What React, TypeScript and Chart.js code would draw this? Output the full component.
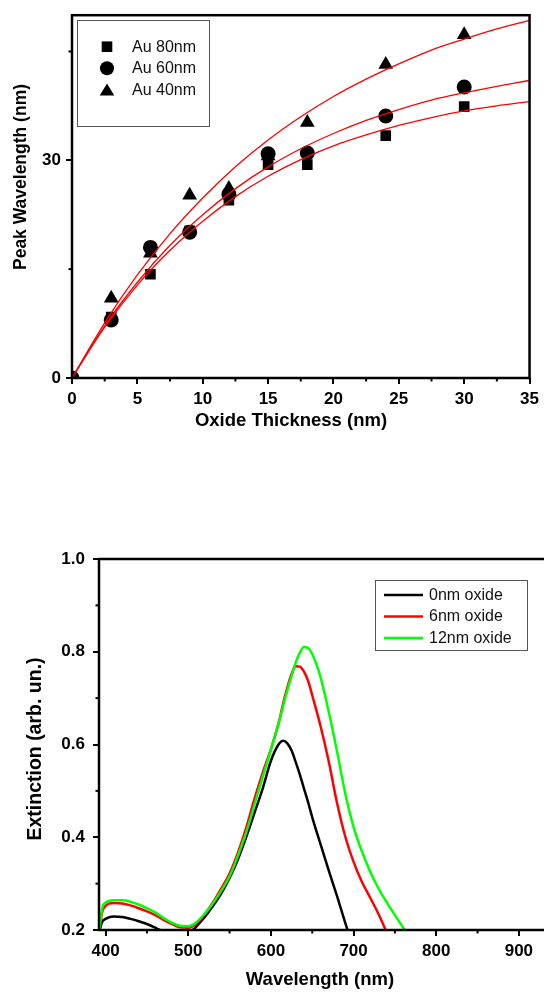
import React, { useEffect, useRef } from "react";
import { Chart, registerables } from "chart.js";

Chart.register(...registerables);

const FONT = '"Liberation Sans", Arial, Helvetica, sans-serif';

// Upper panel: plasmon peak shift against oxide shell thickness
const THICKNESS_NM = [0, 3, 6, 9, 12, 15, 18, 24, 30];
const SHIFT_AU80 = [0, 8.4, 14.3, 20.3, 24.5, 29.4, 29.4, 33.4, 37.4];
const SHIFT_AU60 = [0, 8.0, 18.0, 20.1, 25.3, 30.9, 31.0, 36.1, 40.1];
const SHIFT_AU40 = [0, 11.0, 17.2, 25.2, 26.1, 30.6, 35.2, 43.2, 47.3];

// Fitted saturation curves, sampled along the thickness axis
const FIT_THICKNESS = [0, 2.5, 5, 7.5, 10, 12.5, 15, 17.5, 20, 22.5, 25, 27.5, 30, 32.5, 35];
const FIT_AU80 = [0, 7.0, 12.8, 17.6, 21.6, 25.0, 27.8, 30.1, 32.0, 33.5, 34.8, 35.9, 36.8, 37.5, 38.1];
const FIT_AU60 = [0, 7.2, 13.2, 18.3, 22.5, 26.1, 29.1, 31.6, 33.7, 35.5, 37.0, 38.3, 39.3, 40.2, 41.0];
const FIT_AU40 = [0, 7.6, 14.2, 19.9, 24.8, 29.1, 32.8, 36.0, 38.8, 41.2, 43.3, 45.2, 46.7, 48.1, 49.3];

const TOP_X_TICKS_MINOR = [2.5, 7.5, 12.5, 17.5, 22.5, 27.5, 32.5];
const TOP_Y_TICKS_MINOR = [15, 45];

// Lower panel: extinction spectra
const WAVELENGTH = [
  392, 396, 400, 410, 420, 430, 440, 450, 460, 470, 480, 490, 500, 505, 510, 520, 530, 540, 550,
  560, 570, 580, 590, 600, 610, 615, 620, 625, 630, 635, 640, 645, 650, 660, 670, 680, 690, 700,
  710, 720, 730, 740, 750, 760, 765,
];
const EXT_OXIDE_0 = [
  0.195, 0.218, 0.224, 0.229, 0.228, 0.224, 0.219, 0.213, 0.205, 0.196, null, null, null, 0.199, 0.208,
  0.228, 0.252, 0.279, 0.312, 0.352, 0.4, 0.452, 0.505, 0.565, 0.602, 0.608, 0.602, 0.587, 0.562, 0.535,
  0.505, 0.475, 0.443, 0.385, 0.328, 0.273, 0.215, 0.16, null, null, null, null, null, null, null,
];
const EXT_OXIDE_6 = [
  0.195, 0.24, 0.252, 0.258, 0.257, 0.253, 0.247, 0.24, 0.232, 0.222, 0.213, 0.206, 0.205, 0.208, 0.214,
  0.234, 0.26, 0.29, 0.322, 0.366, 0.42, 0.482, 0.539, 0.59, 0.651, 0.69, 0.724, 0.752, 0.769, 0.768,
  0.757, 0.737, 0.706, 0.64, 0.563, 0.474, 0.401, 0.347, 0.304, 0.27, 0.235, 0.195, null, null, null,
];
const EXT_OXIDE_12 = [
  0.195, 0.248, 0.259, 0.264, 0.264, 0.261, 0.255, 0.247, 0.238, 0.226, 0.216, 0.209, 0.208, 0.211, 0.217,
  0.235, 0.258, 0.285, 0.316, 0.36, 0.41, 0.47, 0.53, 0.589, 0.65, 0.685, 0.718, 0.748, 0.777, 0.798,
  0.81, 0.808, 0.795, 0.745, 0.67, 0.585, 0.494, 0.422, 0.37, 0.326, 0.29, 0.26, 0.232, 0.205, 0.19,
];

const BOTTOM_X_TICKS_MINOR = [450, 550, 650, 750, 850];
const BOTTOM_Y_TICKS_MINOR = [0.3, 0.5, 0.7, 0.9];

const tickFont = { family: FONT, size: 17, weight: "bold" as const };

// Box around the plotting area
const framePlugin = (width: number) => ({
  id: "frame",
  afterDraw(chart: any) {
    const { ctx, chartArea: a } = chart;
    ctx.save();
    ctx.strokeStyle = "#000";
    ctx.lineWidth = width;
    ctx.strokeRect(a.left, a.top, a.right - a.left, a.bottom - a.top);
    ctx.restore();
  },
});

// Short unlabeled ticks between the labeled ones
const minorTicksPlugin = (xs: number[], ys: number[], len: number) => ({
  id: "minorTicks",
  afterDraw(chart: any) {
    const { ctx, chartArea: a, scales } = chart;
    ctx.save();
    ctx.strokeStyle = "#000";
    ctx.lineWidth = 2;
    xs.forEach((v) => {
      const p = scales.x.getPixelForValue(v);
      ctx.beginPath();
      ctx.moveTo(p, a.bottom);
      ctx.lineTo(p, a.bottom + len);
      ctx.stroke();
    });
    ys.forEach((v) => {
      const p = scales.y.getPixelForValue(v);
      ctx.beginPath();
      ctx.moveTo(a.left, p);
      ctx.lineTo(a.left - len, p);
      ctx.stroke();
    });
    ctx.restore();
  },
});

type AxisTitle = { text: string; x: number; y: number; size: number; vertical?: boolean };

// Axis captions placed at fixed spots beside the axes
const axisTitlesPlugin = (titles: AxisTitle[]) => ({
  id: "axisTitles",
  afterDraw(chart: any) {
    const { ctx } = chart;
    ctx.save();
    ctx.fillStyle = "#000";
    ctx.textAlign = "center";
    ctx.textBaseline = "middle";
    titles.forEach((t) => {
      ctx.font = `bold ${t.size}px ${FONT}`;
      ctx.save();
      ctx.translate(t.x, t.y);
      if (t.vertical) ctx.rotate(-Math.PI / 2);
      ctx.fillText(t.text, 0, 0);
      ctx.restore();
    });
    ctx.restore();
  },
});

type LegendBox = {
  x: number;
  y: number;
  w: number;
  h: number;
  rows: number[];
  markerX: number;
  textX: number;
  lineLen?: number;
};

// Boxed legend placed inside the plotting area, built from the datasets flagged for it
const legendPlugin = (box: LegendBox) => ({
  id: "boxLegend",
  afterDraw(chart: any) {
    const { ctx } = chart;
    const items = chart.data.datasets.filter((d: any) => d.inLegend);
    ctx.save();
    ctx.fillStyle = "#fff";
    ctx.fillRect(box.x, box.y, box.w, box.h);
    ctx.strokeStyle = "#555";
    ctx.lineWidth = 1;
    ctx.strokeRect(box.x + 0.5, box.y + 0.5, box.w, box.h);
    ctx.font = `16px ${FONT}`;
    ctx.textBaseline = "middle";
    ctx.textAlign = "left";
    items.forEach((d: any, i: number) => {
      const y = box.rows[i];
      const mx = box.markerX;
      ctx.fillStyle = "#000";
      if (d.showLine) {
        const len = box.lineLen ?? 40;
        ctx.strokeStyle = d.borderColor;
        ctx.lineWidth = 2.5;
        ctx.beginPath();
        ctx.moveTo(mx, y);
        ctx.lineTo(mx + len, y);
        ctx.stroke();
      } else if (d.pointStyle === "rect") {
        ctx.fillRect(mx - 5.3, y - 5.3, 10.6, 10.6);
      } else if (d.pointStyle === "circle") {
        ctx.beginPath();
        ctx.arc(mx, y, 7, 0, Math.PI * 2);
        ctx.fill();
      } else if (d.pointStyle === "triangle") {
        ctx.beginPath();
        ctx.moveTo(mx, y - 6.5);
        ctx.lineTo(mx + 7.3, y + 5.5);
        ctx.lineTo(mx - 7.3, y + 5.5);
        ctx.closePath();
        ctx.fill();
      }
      ctx.fillStyle = "#111";
      ctx.fillText(d.label, box.textX, y + 0.5);
    });
    ctx.restore();
  },
});

const points = (xs: number[], ys: (number | null)[]) => xs.map((x, i) => ({ x, y: ys[i] }));

function axisBase() {
  return {
    type: "linear" as const,
    border: { display: false },
    grid: {
      drawOnChartArea: false,
      drawTicks: true,
      tickLength: 6,
      lineWidth: 2,
      color: "#000",
    },
  };
}

function topConfig(): any {
  const marker = (label: string, ys: number[], style: string, radius: number) => ({
    label,
    inLegend: true,
    data: points(THICKNESS_NM, ys),
    showLine: false,
    pointStyle: style,
    pointRadius: radius,
    pointBackgroundColor: "#000",
    pointBorderColor: "#000",
    pointBorderWidth: 0,
    clip: 0,
    order: 2,
  });
  const fit = (ys: number[]) => ({
    label: "fit",
    data: points(FIT_THICKNESS, ys),
    showLine: true,
    borderColor: "#ff0000",
    borderWidth: 1.3,
    pointRadius: 0,
    cubicInterpolationMode: "monotone",
    clip: 0,
    order: 1,
  });
  return {
    type: "scatter",
    data: {
      datasets: [
        marker("Au 80nm", SHIFT_AU80, "rect", 7.5),
        marker("Au 60nm", SHIFT_AU60, "circle", 7.5),
        marker("Au 40nm", SHIFT_AU40, "triangle", 8.5),
        fit(FIT_AU80),
        fit(FIT_AU60),
        fit(FIT_AU40),
      ],
    },
    options: {
      animation: false,
      responsive: false,
      devicePixelRatio: 1,
      layout: { padding: { top: 8, right: 11, left: 0, bottom: 0 } },
      plugins: { legend: { display: false }, tooltip: { enabled: false } },
      scales: {
        x: {
          ...axisBase(),
          min: 0,
          max: 35,
          ticks: { stepSize: 5, font: tickFont, color: "#000", padding: 5, includeBounds: false },
          afterFit: (s: any) => {
            s.height = 62;
          },
        },
        y: {
          ...axisBase(),
          min: 0,
          max: 50,
          ticks: { stepSize: 30, font: tickFont, color: "#000", padding: 5, includeBounds: false },
          afterFit: (s: any) => {
            s.width = 72;
          },
        },
      },
    },
    plugins: [
      minorTicksPlugin(TOP_X_TICKS_MINOR, TOP_Y_TICKS_MINOR, 3.5),
      framePlugin(2.5),
      axisTitlesPlugin([
        { text: "Oxide Thickness (nm)", x: 291, y: 421, size: 18.5 },
        { text: "Peak Wavelength (nm)", x: 21, y: 177, size: 17.5, vertical: true },
      ]),
      legendPlugin({ x: 77, y: 20, w: 132, h: 106, rows: [46.7, 68.3, 90], markerX: 107, textX: 132 }),
    ],
  };
}

function bottomConfig(): any {
  const spectrum = (label: string, ys: (number | null)[], color: string, order: number) => ({
    label,
    inLegend: true,
    data: points(WAVELENGTH, ys),
    showLine: true,
    borderColor: color,
    backgroundColor: color,
    borderWidth: 2.5,
    pointRadius: 0,
    cubicInterpolationMode: "monotone",
    spanGaps: false,
    clip: 0,
    order,
  });
  return {
    type: "line",
    data: {
      datasets: [
        spectrum("0nm oxide", EXT_OXIDE_0, "#000000", 3),
        spectrum("6nm oxide", EXT_OXIDE_6, "#ff0000", 2),
        spectrum("12nm oxide", EXT_OXIDE_12, "#00ff00", 1),
      ],
    },
    options: {
      animation: false,
      responsive: false,
      devicePixelRatio: 1,
      layout: { padding: { top: 39, right: 5, left: 0, bottom: 0 } },
      plugins: { legend: { display: false }, tooltip: { enabled: false } },
      scales: {
        x: {
          ...axisBase(),
          min: 392,
          max: 934,
          ticks: { stepSize: 100, font: tickFont, color: "#000", padding: 5, includeBounds: false },
          afterFit: (s: any) => {
            s.height = 63;
          },
        },
        y: {
          ...axisBase(),
          min: 0.2,
          max: 1.0,
          ticks: {
            stepSize: 0.2,
            font: tickFont,
            color: "#000",
            padding: 8,
            includeBounds: false,
            callback: (v: number) => Number(v).toFixed(1),
          },
          afterFit: (s: any) => {
            s.width = 99;
          },
        },
      },
    },
    plugins: [
      minorTicksPlugin(BOTTOM_X_TICKS_MINOR, BOTTOM_Y_TICKS_MINOR, 3.5),
      framePlugin(2.5),
      axisTitlesPlugin([
        { text: "Wavelength (nm)", x: 320, y: 460, size: 18.5 },
        { text: "Extinction (arb. un.)", x: 36, y: 229, size: 19.5, vertical: true },
      ]),
      legendPlugin({
        x: 375,
        y: 60,
        w: 152,
        h: 70,
        rows: [75, 96.5, 118],
        markerX: 384,
        textX: 429,
        lineLen: 39,
      }),
    ],
  };
}

export default function App() {
  const topRef = useRef<HTMLCanvasElement>(null);
  const bottomRef = useRef<HTMLCanvasElement>(null);

  useEffect(() => {
    const top = new Chart(topRef.current as HTMLCanvasElement, topConfig());
    const bottom = new Chart(bottomRef.current as HTMLCanvasElement, bottomConfig());
    return () => {
      top.destroy();
      bottom.destroy();
    };
  }, []);

  return (
    <div
      style={{
        position: "absolute",
        left: 0,
        top: 0,
        width: 544,
        height: 993,
        overflow: "hidden",
        background: "#fff",
      }}
    >
      <canvas ref={topRef} width={544} height={440} style={{ position: "absolute", left: 0, top: 0 }} />
      <canvas ref={bottomRef} width={552} height={473} style={{ position: "absolute", left: 0, top: 520 }} />
    </div>
  );
}
